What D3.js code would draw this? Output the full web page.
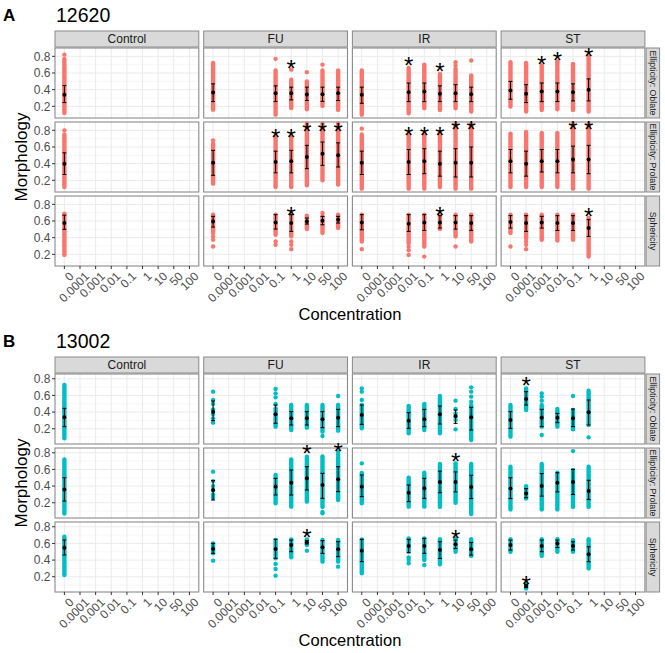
<!DOCTYPE html>
<html>
<head>
<meta charset="utf-8">
<script src="https://cdn.jsdelivr.net/npm/d3@7"></script>
<style>
  body { margin: 0; background: #fff; }
  text { font-family: "Liberation Sans", Arial, sans-serif; }
</style>
</head>
<body>
<script>
const concentrations = ["0", "0.0001", "0.001", "0.01", "0.1", "1", "10", "50", "100"];
const treatments = ["Control", "FU", "IR", "ST"];
const measures = ["Ellipticity: Oblate", "Ellipticity: Prolate", "Sphericity"];
const strains = ["12620", "13002"];
const panelLetters = ["A", "B"];
const yTicks = [0.2, 0.4, 0.6, 0.8];
const yMinor = [0.1, 0.3, 0.5, 0.7, 0.9];

// one entry per column: [treatment, concentration, mean, mean - sd, mean + sd, dots, star]
// dots: [v] is a single point, [hi, lo] is a dense run of points
const a_oblate = [
  ["Control", "0", 0.34, 0.245, 0.45, [[0.82], [0.77, 0.12]], null],
  ["FU", "0", 0.365, 0.257, 0.47, [[0.72, 0.16]], null],
  ["FU", "0.1", 0.358, 0.257, 0.446, [[0.77], [0.63, 0.10]], null],
  ["FU", "1", 0.358, 0.277, 0.43, [[0.64], [0.52, 0.18]], 0.72],
  ["FU", "10", 0.342, 0.27, 0.43, [[0.61], [0.50, 0.165]], null],
  ["FU", "50", 0.346, 0.26, 0.43, [[0.70], [0.63, 0.205]], null],
  ["FU", "100", 0.358, 0.27, 0.43, [[0.63, 0.157]], null],
  ["IR", "0", 0.338, 0.237, 0.43, [[0.63, 0.10]], null],
  ["IR", "0.01", 0.37, 0.257, 0.48, [[0.66, 0.116]], 0.76],
  ["IR", "0.1", 0.378, 0.257, 0.48, [[0.70, 0.177]], null],
  ["IR", "1", 0.35, 0.257, 0.446, [[0.59, 0.157]], 0.69],
  ["IR", "10", 0.358, 0.257, 0.46, [[0.73], [0.69], [0.65, 0.177]], null],
  ["IR", "50", 0.346, 0.257, 0.43, [[0.75], [0.57, 0.137]], null],
  ["ST", "0", 0.39, 0.285, 0.499, [[0.73, 0.197]], null],
  ["ST", "0.0001", 0.35, 0.245, 0.46, [[0.72, 0.137]], null],
  ["ST", "0.001", 0.378, 0.257, 0.48, [[0.69, 0.157]], 0.77],
  ["ST", "0.01", 0.378, 0.257, 0.48, [[0.74, 0.165]], 0.82],
  ["ST", "0.1", 0.37, 0.265, 0.47, [[0.71, 0.157]], null],
  ["ST", "1", 0.398, 0.265, 0.53, [[0.80, 0.137]], 0.86],
];

const a_prolate = [
  ["Control", "0", 0.40, 0.27, 0.53, [[0.80], [0.75, 0.12]], null],
  ["FU", "0", 0.41, 0.26, 0.56, [[0.68], [0.64, 0.16]], null],
  ["FU", "0.1", 0.42, 0.29, 0.55, [[0.72, 0.12]], 0.78],
  ["FU", "1", 0.43, 0.29, 0.56, [[0.72, 0.12]], 0.78],
  ["FU", "10", 0.48, 0.34, 0.62, [[0.88, 0.14]], 0.857],
  ["FU", "50", 0.52, 0.38, 0.66, [[0.88, 0.2]], 0.857],
  ["FU", "100", 0.50, 0.36, 0.65, [[0.88, 0.15]], 0.857],
  ["IR", "0", 0.41, 0.27, 0.55, [[0.82], [0.75, 0.1]], null],
  ["IR", "0.01", 0.42, 0.27, 0.57, [[0.75, 0.1]], 0.81],
  ["IR", "0.1", 0.43, 0.28, 0.58, [[0.75, 0.1]], 0.81],
  ["IR", "1", 0.40, 0.25, 0.55, [[0.77, 0.12]], 0.81],
  ["IR", "10", 0.41, 0.24, 0.58, [[0.88, 0.1]], 0.88],
  ["IR", "50", 0.41, 0.24, 0.60, [[0.88, 0.1]], 0.88],
  ["ST", "0", 0.43, 0.29, 0.57, [[0.76, 0.12]], null],
  ["ST", "0.0001", 0.40, 0.25, 0.55, [[0.78, 0.12]], null],
  ["ST", "0.001", 0.43, 0.30, 0.57, [[0.77, 0.12]], null],
  ["ST", "0.01", 0.43, 0.29, 0.57, [[0.77, 0.12]], null],
  ["ST", "0.1", 0.45, 0.29, 0.61, [[0.88, 0.1]], 0.88],
  ["ST", "1", 0.45, 0.28, 0.62, [[0.88, 0.1]], 0.88],
];

const a_spher = [
  ["Control", "0", 0.575, 0.50, 0.67, [[0.688, 0.193]], null],
  ["FU", "0", 0.595, 0.527, 0.656, [[0.676, 0.455], [0.415], [0.374], [0.294]], null],
  ["FU", "0.1", 0.583, 0.503, 0.676, [[0.676, 0.435], [0.354], [0.314]], null],
  ["FU", "1", 0.575, 0.475, 0.676, [[0.676, 0.415], [0.354], [0.314], [0.262]], 0.736],
  ["FU", "10", 0.595, 0.563, 0.636, [[0.664, 0.503]], null],
  ["FU", "50", 0.604, 0.555, 0.656, [[0.696], [0.656, 0.455]], null],
  ["FU", "100", 0.616, 0.575, 0.656, [[0.676, 0.515]], null],
  ["IR", "0", 0.583, 0.495, 0.676, [[0.676, 0.354], [0.262]], null],
  ["IR", "0.01", 0.567, 0.475, 0.676, [[0.676, 0.33], [0.29], [0.25], [0.193]], null],
  ["IR", "0.1", 0.583, 0.487, 0.676, [[0.676, 0.294], [0.173]], null],
  ["IR", "1", 0.583, 0.515, 0.664, [[0.676, 0.503]], 0.736],
  ["IR", "10", 0.583, 0.503, 0.664, [[0.676, 0.415], [0.294]], null],
  ["IR", "50", 0.575, 0.487, 0.664, [[0.676, 0.354]], null],
  ["ST", "0", 0.587, 0.515, 0.664, [[0.676, 0.455], [0.294]], null],
  ["ST", "0.0001", 0.575, 0.475, 0.664, [[0.676, 0.394], [0.354], [0.314], [0.262]], null],
  ["ST", "0.001", 0.583, 0.515, 0.656, [[0.676, 0.374]], null],
  ["ST", "0.01", 0.575, 0.487, 0.664, [[0.676, 0.366]], null],
  ["ST", "0.1", 0.575, 0.487, 0.664, [[0.676, 0.374]], null],
  ["ST", "1", 0.515, 0.415, 0.616, [[0.636, 0.173]], 0.716],
];

const b_oblate = [
  ["Control", "0", 0.337, 0.225, 0.445, [[0.725, 0.085]], null],
  ["FU", "0", 0.405, 0.297, 0.533, [[0.645], [0.545], [0.497], [0.433], [0.377], [0.325], [0.273]], null],
  ["FU", "0.1", 0.373, 0.265, 0.485, [[0.677], [0.625], [0.577], [0.497], [0.445], [0.425, 0.225]], null],
  ["FU", "1", 0.325, 0.245, 0.405, [[0.485, 0.185]], null],
  ["FU", "10", 0.325, 0.245, 0.405, [[0.485, 0.213]], null],
  ["FU", "50", 0.313, 0.213, 0.405, [[0.485, 0.165], [0.113]], null],
  ["FU", "100", 0.333, 0.225, 0.433, [[0.593], [0.485, 0.177]], null],
  ["IR", "0", 0.365, 0.253, 0.485, [[0.685], [0.645], [0.545], [0.485, 0.205]], null],
  ["IR", "0.01", 0.297, 0.205, 0.393, [[0.473, 0.145]], null],
  ["IR", "0.1", 0.313, 0.225, 0.433, [[0.497, 0.185]], null],
  ["IR", "1", 0.373, 0.257, 0.473, [[0.593, 0.145]], null],
  ["IR", "10", 0.353, 0.265, 0.425, [[0.537], [0.437], [0.385], [0.345], [0.305], [0.193]], null],
  ["IR", "50", 0.337, 0.185, 0.457, [[0.697], [0.645], [0.585], [0.525], [0.485, 0.065]], null],
  ["ST", "0", 0.305, 0.205, 0.405, [[0.485, 0.105]], null],
  ["ST", "0.0001", 0.557, 0.485, 0.645, [[0.685, 0.425]], 0.785],
  ["ST", "0.001", 0.333, 0.225, 0.433, [[0.625], [0.585], [0.537], [0.485, 0.225], [0.125]], null],
  ["ST", "0.01", 0.333, 0.273, 0.385, [[0.437, 0.225]], null],
  ["ST", "0.1", 0.325, 0.225, 0.437, [[0.593], [0.425, 0.193]], null],
  ["ST", "1", 0.397, 0.245, 0.545, [[0.657, 0.245], [0.097]], null],
];

const b_prolate = [
  ["Control", "0", 0.36, 0.22, 0.50, [[0.72, 0.07]], null],
  ["FU", "0", 0.353, 0.233, 0.465, [[0.573], [0.46], [0.40], [0.35], [0.30], [0.26]], null],
  ["FU", "0.1", 0.393, 0.293, 0.493, [[0.533, 0.193]], null],
  ["FU", "1", 0.441, 0.293, 0.593, [[0.721, 0.153]], null],
  ["FU", "10", 0.493, 0.353, 0.633, [[0.753, 0.213]], 0.853],
  ["FU", "50", 0.413, 0.253, 0.553, [[0.757, 0.15], [0.09], [0.073]], null],
  ["FU", "100", 0.481, 0.333, 0.633, [[0.813], [0.78], [0.75, 0.233]], 0.88],
  ["IR", "0", 0.393, 0.273, 0.533, [[0.673], [0.557, 0.193]], null],
  ["IR", "0.01", 0.321, 0.213, 0.413, [[0.50, 0.153]], null],
  ["IR", "0.1", 0.373, 0.253, 0.493, [[0.56, 0.153]], null],
  ["IR", "1", 0.45, 0.32, 0.58, [[0.665, 0.15]], null],
  ["IR", "10", 0.449, 0.33, 0.57, [[0.673, 0.20]], 0.76],
  ["IR", "50", 0.39, 0.25, 0.53, [[0.665, 0.065]], null],
  ["ST", "0", 0.37, 0.25, 0.50, [[0.633, 0.12]], null],
  ["ST", "0.0001", 0.31, 0.26, 0.37, [[0.40, 0.25]], null],
  ["ST", "0.001", 0.40, 0.28, 0.55, [[0.665, 0.12]], null],
  ["ST", "0.01", 0.44, 0.33, 0.56, [[0.561, 0.12]], null],
  ["ST", "0.1", 0.45, 0.30, 0.60, [[0.82], [0.593, 0.15]], null],
  ["ST", "1", 0.34, 0.24, 0.47, [[0.633, 0.15]], null],
];

const b_spher = [
  ["Control", "0", 0.549, 0.461, 0.641, [[0.681, 0.221]], null],
  ["FU", "0", 0.533, 0.481, 0.601, [[0.601, 0.481], [0.393]], null],
  ["FU", "0.1", 0.533, 0.421, 0.649, [[0.641, 0.421], [0.353], [0.293], [0.213]], null],
  ["FU", "1", 0.581, 0.501, 0.641, [[0.649, 0.433]], null],
  ["FU", "10", 0.613, 0.593, 0.633, [[0.649, 0.581], [0.513]], 0.741],
  ["FU", "50", 0.553, 0.481, 0.633, [[0.641, 0.381]], null],
  ["FU", "100", 0.529, 0.441, 0.621, [[0.641, 0.381], [0.321]], null],
  ["IR", "0", 0.513, 0.381, 0.649, [[0.649, 0.241]], null],
  ["IR", "0.01", 0.569, 0.489, 0.649, [[0.661, 0.501], [0.433], [0.401], [0.361]], null],
  ["IR", "0.1", 0.569, 0.481, 0.661, [[0.661, 0.401], [0.341]], null],
  ["IR", "1", 0.52, 0.42, 0.62, [[0.65, 0.35]], null],
  ["IR", "10", 0.59, 0.54, 0.64, [[0.66, 0.50]], 0.72],
  ["IR", "50", 0.53, 0.46, 0.61, [[0.65, 0.45]], null],
  ["ST", "0", 0.58, 0.52, 0.64, [[0.65, 0.50]], null],
  ["ST", "0.0001", 0.09, 0.07, 0.11, [[0.12, 0.06]], 0.17],
  ["ST", "0.001", 0.57, 0.50, 0.64, [[0.65, 0.45]], null],
  ["ST", "0.01", 0.60, 0.55, 0.64, [[0.65, 0.50]], null],
  ["ST", "0.1", 0.57, 0.52, 0.62, [[0.64, 0.50]], null],
  ["ST", "1", 0.47, 0.38, 0.56, [[0.65, 0.30]], null],
];

const panelData = [[a_oblate, a_prolate, a_spher], [b_oblate, b_prolate, b_spher]];
const pointColors = ["#F8766D", "#00BFC4"];
const yDomains = [[0.06, 0.90], [0.017, 0.857]];

// layout
const W = 665, H = 653;
const plotLeft = 55, facetW = 143.8, facetGap = 4.9;
const rowTop = 48, rowH = 70, rowGap = 4;
const stripTop = 31, stripH = 16;
const panelShift = 326;
const rStripX = plotLeft + 4 * facetW + 3 * facetGap + 1.2, rStripW = 13.5;
const starSize = 24;

const svg = d3.select("body").append("svg")
  .attr("width", W)
  .attr("height", H);

strains.forEach((strain, si) => {
  const oy = si * panelShift;
  const g = svg.append("g").attr("transform", `translate(0,${oy})`);

  g.append("text")
    .attr("x", 3).attr("y", 21)
    .attr("font-size", 17).attr("font-weight", "bold")
    .attr("fill", "#000")
    .text(panelLetters[si]);
  g.append("text")
    .attr("x", 56).attr("y", 22)
    .attr("font-size", 19.5)
    .attr("fill", "#000")
    .text(strain);

  const bottom = rowTop + 3 * rowH + 2 * rowGap;

  // y title
  g.append("text")
    .attr("transform", `translate(27,${(rowTop + bottom) / 2}) rotate(-90)`)
    .attr("text-anchor", "middle")
    .attr("font-size", 17)
    .attr("fill", "#000")
    .text("Morphology");

  // x title
  g.append("text")
    .attr("x", (plotLeft + rStripX - 1.2) / 2)
    .attr("y", 320)
    .attr("text-anchor", "middle")
    .attr("font-size", 16.5)
    .attr("fill", "#000")
    .text("Concentration");

  treatments.forEach((tr, ti) => {
    const fx = plotLeft + ti * (facetW + facetGap);
    const x = d3.scalePoint().domain(concentrations).range([fx, fx + facetW]).padding(0.6);

    // top strip
    g.append("rect")
      .attr("x", fx).attr("y", stripTop)
      .attr("width", facetW).attr("height", stripH)
      .attr("fill", "#d9d9d9").attr("stroke", "#8a8a8a").attr("stroke-width", 1);
    g.append("text")
      .attr("x", fx + facetW / 2).attr("y", stripTop + stripH / 2 + 4.3)
      .attr("text-anchor", "middle")
      .attr("font-size", 12)
      .attr("fill", "#1a1a1a")
      .text(tr);

    measures.forEach((ms, mi) => {
      const top = rowTop + mi * (rowH + rowGap);
      const y = d3.scaleLinear().domain(yDomains[si]).range([top + rowH, top]);
      const facet = g.append("g");

      facet.append("rect")
        .attr("x", fx).attr("y", top)
        .attr("width", facetW).attr("height", rowH)
        .attr("fill", "#fff");

      facet.selectAll(".minor").data(yMinor.filter(v => y(v) > top && y(v) < top + rowH))
        .join("line")
        .attr("x1", fx).attr("x2", fx + facetW)
        .attr("y1", d => y(d)).attr("y2", d => y(d))
        .attr("stroke", "#f2f2f2").attr("stroke-width", 0.6);
      facet.selectAll(".majy").data(yTicks)
        .join("line")
        .attr("x1", fx).attr("x2", fx + facetW)
        .attr("y1", d => y(d)).attr("y2", d => y(d))
        .attr("stroke", "#ebebeb").attr("stroke-width", 1);
      facet.selectAll(".majx").data(concentrations)
        .join("line")
        .attr("x1", d => x(d)).attr("x2", d => x(d))
        .attr("y1", top).attr("y2", top + rowH)
        .attr("stroke", "#ebebeb").attr("stroke-width", 1);

      const cols = panelData[si][mi].filter(d => d[0] === tr);

      // raw points
      cols.forEach(d => {
        const cx = x(d[1]);
        d[5].forEach(run => {
          if (run.length === 1) {
            facet.append("circle")
              .attr("cx", cx).attr("cy", y(run[0])).attr("r", 2.2)
              .attr("fill", pointColors[si]);
          } else {
            facet.append("line")
              .attr("x1", cx).attr("x2", cx)
              .attr("y1", y(run[0])).attr("y2", y(run[1]))
              .attr("stroke", pointColors[si])
              .attr("stroke-width", 4.4)
              .attr("stroke-linecap", "round");
          }
        });
      });

      // mean +/- sd
      const eb = facet.selectAll(".eb").data(cols).join("g");
      eb.append("line")
        .attr("x1", d => x(d[1])).attr("x2", d => x(d[1]))
        .attr("y1", d => y(d[3])).attr("y2", d => y(d[4]))
        .attr("stroke", "#000").attr("stroke-width", 1);
      eb.append("line")
        .attr("x1", d => x(d[1]) - 2).attr("x2", d => x(d[1]) + 2)
        .attr("y1", d => y(d[3])).attr("y2", d => y(d[3]))
        .attr("stroke", "#000").attr("stroke-width", 1);
      eb.append("line")
        .attr("x1", d => x(d[1]) - 2).attr("x2", d => x(d[1]) + 2)
        .attr("y1", d => y(d[4])).attr("y2", d => y(d[4]))
        .attr("stroke", "#000").attr("stroke-width", 1);
      eb.append("circle")
        .attr("cx", d => x(d[1])).attr("cy", d => y(d[2])).attr("r", 2)
        .attr("fill", "#000");

      facet.append("rect")
        .attr("x", fx).attr("y", top)
        .attr("width", facetW).attr("height", rowH)
        .attr("fill", "none").attr("stroke", "#8a8a8a").attr("stroke-width", 1.1);

      // significance stars
      facet.selectAll(".star").data(cols.filter(d => d[6] !== null))
        .join("text")
        .attr("x", d => x(d[1]))
        .attr("y", d => y(d[6]) + starSize * 0.585)
        .attr("text-anchor", "middle")
        .attr("font-size", starSize)
        .attr("fill", "#000")
        .text("*");

      // y axis on left column
      if (ti === 0) {
        const ya = g.append("g");
        ya.selectAll("line").data(yTicks).join("line")
          .attr("x1", fx - 3).attr("x2", fx)
          .attr("y1", d => y(d)).attr("y2", d => y(d))
          .attr("stroke", "#333").attr("stroke-width", 1);
        ya.selectAll("text").data(yTicks).join("text")
          .attr("x", fx - 4.5).attr("y", d => y(d) + 4.3)
          .attr("text-anchor", "end")
          .attr("font-size", 12)
          .attr("fill", "#4d4d4d")
          .text(d => d3.format(".1f")(d));
      }

      // right strip on last column
      if (ti === treatments.length - 1) {
        g.append("rect")
          .attr("x", rStripX).attr("y", top)
          .attr("width", rStripW).attr("height", rowH)
          .attr("fill", "#d9d9d9").attr("stroke", "#8a8a8a").attr("stroke-width", 1);
        g.append("text")
          .attr("transform", `translate(${rStripX + rStripW / 2 - 3.1},${top + rowH / 2}) rotate(90)`)
          .attr("text-anchor", "middle")
          .attr("font-size", 8.8)
          .attr("fill", "#1a1a1a")
          .text(ms);
      }

      // x axis on bottom row
      if (mi === measures.length - 1) {
        const xa = g.append("g");
        xa.selectAll("line").data(concentrations).join("line")
          .attr("x1", d => x(d)).attr("x2", d => x(d))
          .attr("y1", top + rowH).attr("y2", top + rowH + 3)
          .attr("stroke", "#333").attr("stroke-width", 1);
        xa.selectAll("text").data(concentrations).join("text")
          .attr("transform", d => `translate(${x(d) + 4},${top + rowH + 5}) rotate(-45)`)
          .attr("text-anchor", "end")
          .attr("dy", "0.71em")
          .attr("font-size", 12)
          .attr("fill", "#4d4d4d")
          .text(d => d);
      }
    });
  });
});
</script>
</body>
</html>
